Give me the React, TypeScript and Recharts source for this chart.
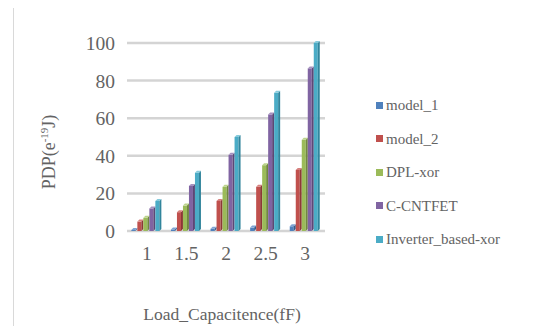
import { BarChart, Bar, XAxis, YAxis, CartesianGrid, Label } from 'recharts';

const categories = ['1', '1.5', '2', '2.5', '3'];
const model1 = [0.5, 0.8, 1.2, 1.8, 2.5];
const model2 = [5, 10, 16, 23.5, 32.5];
const dplXor = [7, 13.5, 23.5, 35, 48.5];
const cCntfet = [12, 24, 40.5, 62, 86.5];
const inverterXor = [16, 31, 50, 73.5, 100];
const yTicks = [0, 20, 40, 60, 80, 100];

const SERIES = [
  { key: 'model_1', values: model1, color: '#4F81BD', side: '#385D8A', top: '#7EA3D3' },
  { key: 'model_2', values: model2, color: '#C0504D', side: '#8C3836', top: '#D6807E' },
  { key: 'DPL-xor', values: dplXor, color: '#9BBB59', side: '#71893F', top: '#BBD38A' },
  { key: 'C-CNTFET', values: cCntfet, color: '#8064A2', side: '#5C4776', top: '#A591BF' },
  { key: 'Inverter_based-xor', values: inverterXor, color: '#4BACC6', side: '#31859C', top: '#86CADB' },
];

const data = categories.map((cat, i) => {
  const row: Record<string, string | number> = { cat };
  SERIES.forEach(s => { row[s.key] = s.values[i]; });
  return row;
});

const FONT = 'Liberation Serif, serif';
const TEXT = '#636363';

// front face plus a thin side and top face for the extruded look
const makeShape = (side: string, top: string) => (props: any) => {
  const { x, y, width, height, fill } = props;
  if (height <= 0) return null;
  const d = 2;
  const w = width - d;
  return (
    <g>
      <rect x={x} y={y} width={w} height={height} fill={fill} />
      <polygon points={`${x + w},${y} ${x + width},${y - d} ${x + width},${y + height - d} ${x + w},${y + height}`} fill={side} />
      <polygon points={`${x},${y} ${x + d},${y - d} ${x + width},${y - d} ${x + w},${y}`} fill={top} />
    </g>
  );
};

const XTick = ({ x, y, payload }: any) => (
  <text x={x} y={y + 21} textAnchor="middle" fill={TEXT} style={{ fontFamily: FONT, fontSize: 19.5 }}>
    {payload.value}
  </text>
);

const YTick = ({ x, y, payload }: any) => (
  <text x={x - 4} y={y + 7} textAnchor="end" fill={TEXT} style={{ fontFamily: FONT, fontSize: 19.5 }}>
    {payload.value}
  </text>
);

const YTitle = () => {
  const cx = 55;
  const cy = 152;
  return (
    <text x={cx} y={cy} transform={`rotate(-90, ${cx}, ${cy})`} textAnchor="middle" fill={TEXT} style={{ fontFamily: FONT, fontSize: 18 }}>
      PDP(e<tspan fontSize={11} dy={-7}>-19</tspan><tspan dy={7}>J)</tspan>
    </text>
  );
};

const XTitle = ({ viewBox }: any) => (
  <text x={viewBox.x + viewBox.width / 2 - 4} y={320} textAnchor="middle" fill={TEXT} style={{ fontFamily: FONT, fontSize: 17.5 }}>
    Load_Capacitence(fF)
  </text>
);

export default function App() {
  return (
    <div style={{ position: 'relative', margin: -8, width: 543, height: 334, overflow: 'hidden', background: '#fff', fontFamily: FONT }}>
      <div style={{ position: 'absolute', left: 13, top: 5, width: 560, height: 360, border: '1px solid #d9d9d9', boxSizing: 'border-box' }} />
      <BarChart
        width={543}
        height={334}
        data={data}
        margin={{ top: 43, right: 218, bottom: 43, left: 0 }}
        barCategoryGap="11%"
        barGap={0}
        style={{ position: 'absolute', left: 0, top: 0, fontFamily: FONT }}
      >
        <CartesianGrid vertical={false} stroke="#d4d4d4" strokeWidth={2.5} />
        <XAxis dataKey="cat" height={60} axisLine={false} tickLine={false} tick={<XTick />}>
          <Label content={<XTitle />} />
        </XAxis>
        <YAxis width={127} domain={[0, 100]} ticks={yTicks} axisLine={false} tickLine={false} tick={<YTick />}>
          <Label content={<YTitle />} />
        </YAxis>
        {SERIES.map(s => (
          <Bar key={s.key} dataKey={s.key} fill={s.color} isAnimationActive={false} shape={makeShape(s.side, s.top)} />
        ))}
      </BarChart>
      <div style={{ position: 'absolute', left: 376, top: 0 }}>
        {SERIES.map((s, i) => (
          <div key={s.key} style={{ position: 'absolute', top: 96 + i * 33.5, left: 0, display: 'flex', alignItems: 'center', whiteSpace: 'nowrap', fontFamily: FONT, fontSize: 15, color: TEXT, lineHeight: '18px' }}>
            <span style={{ display: 'inline-block', width: 7, height: 7, background: s.color, marginRight: 3 }} />
            {s.key}
          </div>
        ))}
      </div>
    </div>
  );
}
